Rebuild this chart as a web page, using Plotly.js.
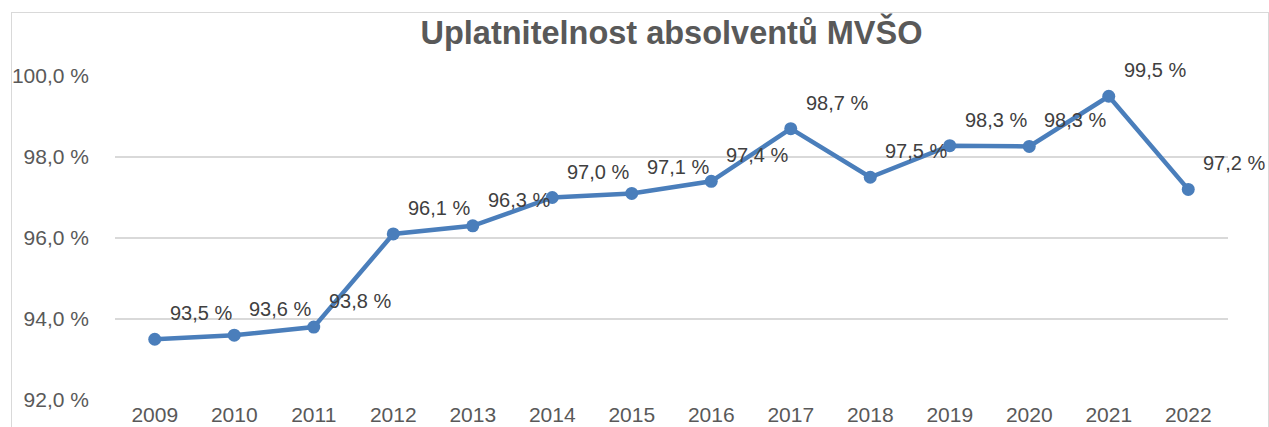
<!DOCTYPE html>
<html>
<head>
<meta charset="utf-8">
<script src="https://cdn.plot.ly/plotly-3.0.1.min.js"></script>
<style>
  html, body { margin: 0; padding: 0; background: #fff; }
  #wrap { position: relative; width: 1269px; height: 427px; overflow: hidden; }
  #chart { width: 1269px; height: 427px; }
  #frame { position: absolute; left: 11px; top: 12px; width: 1256px; height: 430px;
           border: 1px solid #d9d9d9; pointer-events: none; }
</style>
</head>
<body>
<div id="wrap">
  <div id="chart"></div>
  <div id="frame"></div>
</div>
<script>
// hodnoty odectene z predlohy
const years = ["2009", "2010", "2011", "2012", "2013", "2014", "2015",
               "2016", "2017", "2018", "2019", "2020", "2021", "2022"];
const rate = [93.5, 93.6, 93.8, 96.1, 96.3, 97.0, 97.1,
              97.4, 98.7, 97.5, 98.28, 98.26, 99.5, 97.2];
const yTicks = [92, 94, 96, 98, 100];

const FONT = "'Liberation Sans', Arial, sans-serif";
const GREY = "#595959";
const BLUE = "#4a7ebb";

const fmt = v => v.toFixed(1).replace(".", ",") + " %";

const trace = {
  x: years, y: rate, type: "scatter", mode: "lines+markers",
  line: { color: BLUE, width: 4.5 },
  marker: { color: BLUE, size: 13 },
  hoverinfo: "skip", showlegend: false,
};

// popisky bodu: vpravo nahore od bodu (x = index kategorie)
const labels = years.map((yr, i) => ({
  x: i, y: rate[i], xref: "x", yref: "y",
  text: fmt(rate[i]), showarrow: false,
  xanchor: "left", yanchor: "middle",
  xshift: 13, yshift: 26,
  font: { family: FONT, size: 20, color: "#404040" },
}));

const layout = {
  width: 1269, height: 427,
  paper_bgcolor: "#fff", plot_bgcolor: "#fff",
  margin: { t: 76, l: 115, r: 41, b: 27 },
  font: { family: FONT, color: GREY, size: 20 },
  title: {
    text: "<b>Uplatnitelnost absolventů MVŠO</b>",
    x: 0.5, xref: "paper", xanchor: "center",
    y: 1 - 33 / 427, yref: "container", yanchor: "middle",
    font: { family: FONT, size: 32.5, color: GREY },
  },
  xaxis: {
    type: "category", range: [-0.5, 13.5],
    showgrid: false, zeroline: false, showline: false,
    ticks: "", tickfont: { family: FONT, size: 21, color: GREY },
    fixedrange: true,
  },
  yaxis: {
    range: [92, 100], tickvals: yTicks, ticktext: yTicks.map(fmt),
    showgrid: true, gridcolor: "#d9d9d9", gridwidth: 2,
    zeroline: false, showline: false, ticks: "",
    ticklabelstandoff: 25,
    tickfont: { family: FONT, size: 21, color: GREY },
    fixedrange: true,
  },
  annotations: labels,
};

Plotly.newPlot("chart", [trace], layout, { displayModeBar: false, staticPlot: true });
</script>
</body>
</html>
